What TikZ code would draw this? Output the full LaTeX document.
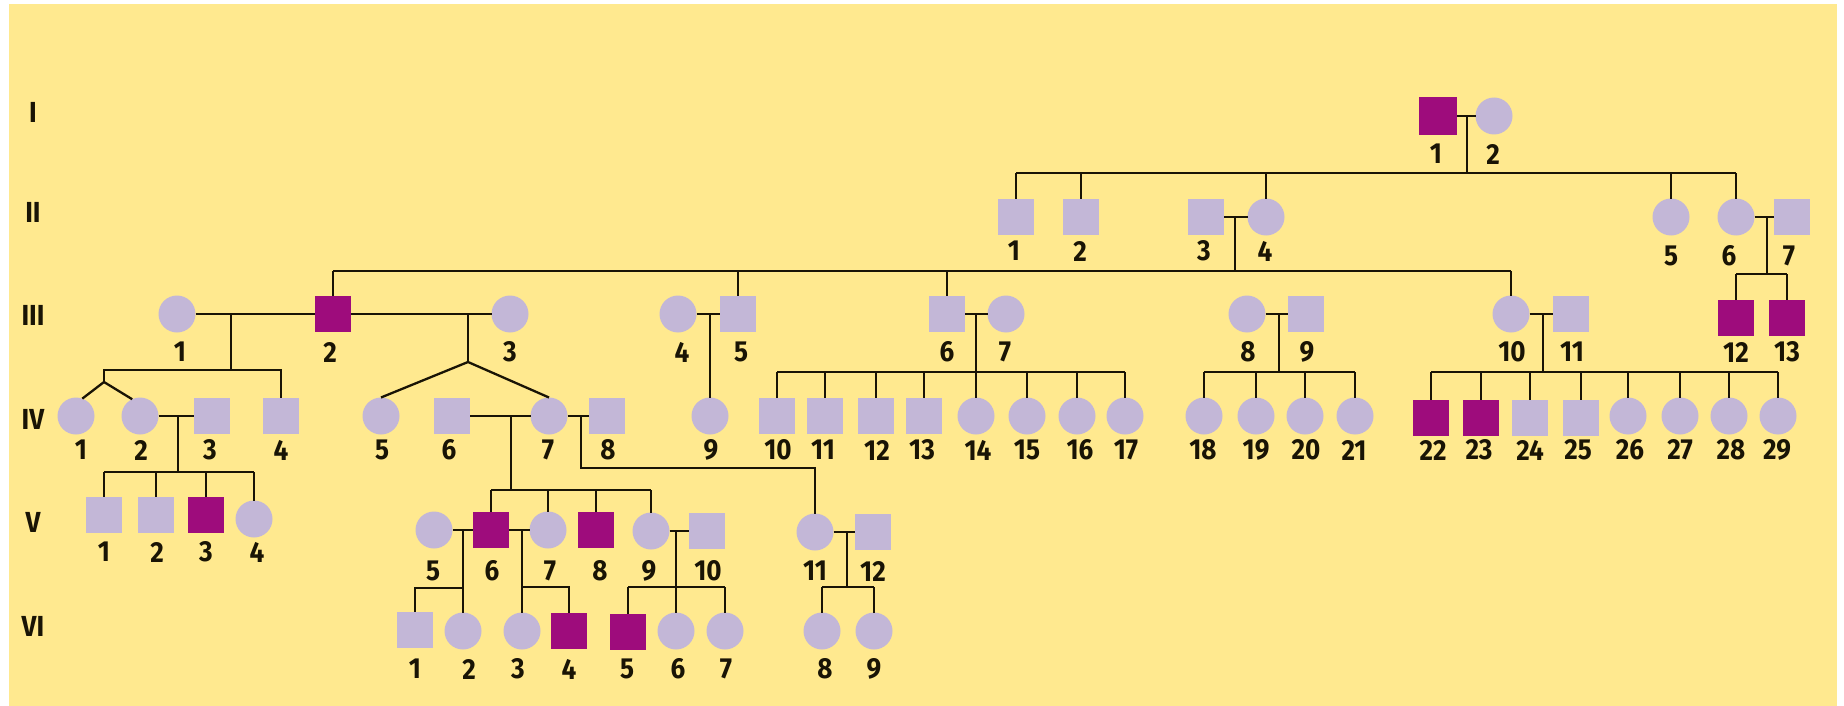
\documentclass[tikz,border=0pt]{standalone}
\usepackage{fontspec}
\setmainfont{Fira Sans}[FakeStretch=0.9]
\definecolor{bgy}{RGB}{255,233,143}
\definecolor{lav}{RGB}{195,183,215}
\definecolor{mag}{RGB}{158,12,124}
\definecolor{linec}{RGB}{25,20,5}
\newcommand{\labfont}{\fontsize{29}{29}\selectfont\bfseries}
\begin{document}
\begin{tikzpicture}[x=1pt,y=-1pt]
\tikzset{
 sym/.style={draw=none,inner sep=0pt,outer sep=0pt,fill=lav},
 male/.style={sym,rectangle,minimum width=36pt,minimum height=36pt},
 female/.style={sym,circle,minimum size=37pt},
 aff/.style={fill=mag},
 lab/.style={inner sep=0pt,font=\labfont,text=linec},
 gen/.style={inner sep=0pt,font=\labfont,text=linec},
 ln/.style={line width=2.3pt,draw=linec}
}
\useasboundingbox (0,0) rectangle (1844,706);
\fill[white] (0,0) rectangle (1844,706);
\fill[bgy] (9,4) rectangle (1837,706);

% generation labels
\node[gen] (gI) at (33,112) {I};
\node[gen] (gII) at (33,212) {II};
\node[gen] (gIII) at (33,315) {III};
\node[gen] (gIV) at (33,419) {IV};
\node[gen] (gV) at (33,522) {V};
\node[gen] (gVI) at (33,626) {VI};

% ---------- Row I
\node[male,aff,minimum width=38pt,minimum height=38pt] (I1) at (1438,116) {};
\node[female] (I2) at (1494,116) {};
\node[lab] (lI1) at (1436,154) {1};
\node[lab] (lI2) at (1493,154) {2};

% ---------- Row II
\node[male] (II1) at (1016,217) {};
\node[male] (II2) at (1081,217) {};
\node[male] (II3) at (1206,217) {};
\node[female] (II4) at (1266,217) {};
\node[female] (II5) at (1671,217) {};
\node[female] (II6) at (1736,217) {};
\node[male] (II7) at (1792,217) {};
\node[lab] (lII1) at (1014,251) {1};
\node[lab] (lII2) at (1080,251) {2};
\node[lab] (lII3) at (1204,251) {3};
\node[lab] (lII4) at (1265,251) {4};
\node[lab] (lII5) at (1671,256) {5};
\node[lab] (lII6) at (1729,256) {6};
\node[lab] (lII7) at (1789,256) {7};

% ---------- Row III
\node[female] (III1) at (177,314) {};
\node[male,aff] (III2) at (333,314) {};
\node[female] (III3) at (510,314) {};
\node[female] (III4) at (678,314) {};
\node[male] (III5) at (738,314) {};
\node[male] (III6) at (947,314) {};
\node[female] (III7) at (1006,314) {};
\node[female] (III8) at (1247,314) {};
\node[male] (III9) at (1306,314) {};
\node[female] (III10) at (1511,314) {};
\node[male] (III11) at (1571,314) {};
\node[male,aff] (III12) at (1736,318) {};
\node[male,aff] (III13) at (1787,318) {};
\node[lab] (lIII1) at (180,352) {1};
\node[lab] (lIII2) at (330,352) {2};
\node[lab] (lIII3) at (510,352) {3};
\node[lab] (lIII4) at (682,352) {4};
\node[lab] (lIII5) at (741,352) {5};
\node[lab] (lIII6) at (947,352) {6};
\node[lab] (lIII7) at (1005,352) {7};
\node[lab] (lIII8) at (1248,352) {8};
\node[lab] (lIII9) at (1307,352) {9};
\node[lab] (lIII10) at (1512,352) {10};
\node[lab] (lIII11) at (1572,352) {11};
\node[lab] (lIII12) at (1736,352) {12};
\node[lab] (lIII13) at (1787,352) {13};

% ---------- Row IV
\node[female] (IV1) at (76,416) {};
\node[female] (IV2) at (140,416) {};
\node[male] (IV3) at (212,416) {};
\node[male] (IV4) at (281,416) {};
\node[female] (IV5) at (381,416) {};
\node[male] (IV6) at (452,416) {};
\node[female] (IV7) at (549,416) {};
\node[male] (IV8) at (607,416) {};
\node[female] (IV9) at (710,416) {};
\node[male] (IV10) at (777,416) {};
\node[male] (IV11) at (825,416) {};
\node[male] (IV12) at (876,416) {};
\node[male] (IV13) at (924,416) {};
\node[female] (IV14) at (976,416) {};
\node[female] (IV15) at (1027,416) {};
\node[female] (IV16) at (1077,416) {};
\node[female] (IV17) at (1125,416) {};
\node[female] (IV18) at (1204,416) {};
\node[female] (IV19) at (1256,416) {};
\node[female] (IV20) at (1305,416) {};
\node[female] (IV21) at (1355,416) {};
\node[male,aff] (IV22) at (1431,418) {};
\node[male,aff] (IV23) at (1481,418) {};
\node[male] (IV24) at (1530,418) {};
\node[male] (IV25) at (1581,418) {};
\node[female] (IV26) at (1628,416) {};
\node[female] (IV27) at (1680,416) {};
\node[female] (IV28) at (1729,416) {};
\node[female] (IV29) at (1778,416) {};
\node[lab] (lIV1) at (81,450) {1};
\node[lab] (lIV2) at (141,450) {2};
\node[lab] (lIV3) at (210,450) {3};
\node[lab] (lIV4) at (281,450) {4};
\node[lab] (lIV5) at (382,450) {5};
\node[lab] (lIV6) at (449,450) {6};
\node[lab] (lIV7) at (548,450) {7};
\node[lab] (lIV8) at (608,450) {8};
\node[lab] (lIV9) at (711,450) {9};
\node[lab] (lIV10) at (778,450) {10};
\node[lab] (lIV11) at (823,450) {11};
\node[lab] (lIV12) at (877,450) {12};
\node[lab] (lIV13) at (922,450) {13};
\node[lab] (lIV14) at (978,450) {14};
\node[lab] (lIV15) at (1027,450) {15};
\node[lab] (lIV16) at (1080,450) {16};
\node[lab] (lIV17) at (1126,450) {17};
\node[lab] (lIV18) at (1203,450) {18};
\node[lab] (lIV19) at (1256,450) {19};
\node[lab] (lIV20) at (1306,450) {20};
\node[lab] (lIV21) at (1354,450) {21};
\node[lab] (lIV22) at (1433,450) {22};
\node[lab] (lIV23) at (1479,450) {23};
\node[lab] (lIV24) at (1530,450) {24};
\node[lab] (lIV25) at (1578,450) {25};
\node[lab] (lIV26) at (1630,450) {26};
\node[lab] (lIV27) at (1680,450) {27};
\node[lab] (lIV28) at (1731,450) {28};
\node[lab] (lIV29) at (1777,450) {29};

% ---------- Row V
\node[male] (V1) at (104,515) {};
\node[male] (V2) at (156,515) {};
\node[male,aff] (V3) at (206,515) {};
\node[female] (V4) at (254,519) {};
\node[female] (V5) at (434,530) {};
\node[male,aff] (V6) at (491,530) {};
\node[female] (V7) at (548,530) {};
\node[male,aff] (V8) at (596,530) {};
\node[female] (V9) at (651,531) {};
\node[male] (V10) at (707,531) {};
\node[female] (V11) at (815,532) {};
\node[male] (V12) at (873,532) {};
\node[lab] (lV1) at (104,552) {1};
\node[lab] (lV2) at (157,552) {2};
\node[lab] (lV3) at (206,552) {3};
\node[lab] (lV4) at (257,552) {4};
\node[lab] (lV5) at (433,571) {5};
\node[lab] (lV6) at (492,571) {6};
\node[lab] (lV7) at (550,571) {7};
\node[lab] (lV8) at (600,571) {8};
\node[lab] (lV9) at (649,571) {9};
\node[lab] (lV10) at (708,571) {10};
\node[lab] (lV11) at (815,571) {11};
\node[lab] (lV12) at (873,571) {12};

% ---------- Row VI
\node[male] (VI1) at (415,630) {};
\node[female] (VI2) at (463,631) {};
\node[female] (VI3) at (522,631) {};
\node[male,aff] (VI4) at (569,631) {};
\node[male,aff] (VI5) at (628,632) {};
\node[female] (VI6) at (676,631) {};
\node[female] (VI7) at (725,631) {};
\node[female] (VI8) at (822,631) {};
\node[female] (VI9) at (874,631) {};
\node[lab] (lVI1) at (415,669) {1};
\node[lab] (lVI2) at (469,669) {2};
\node[lab] (lVI3) at (518,669) {3};
\node[lab] (lVI4) at (569,669) {4};
\node[lab] (lVI5) at (627,669) {5};
\node[lab] (lVI6) at (678,669) {6};
\node[lab] (lVI7) at (726,669) {7};
\node[lab] (lVI8) at (825,669) {8};
\node[lab] (lVI9) at (874,669) {9};

% ---------- junction coordinates
\coordinate (mI) at (1467,116);
\coordinate (bII) at (1467,173);
\coordinate (mII34) at (1235,217);
\coordinate (bIII) at (1235,271);
\coordinate (mII67) at (1767,217);
\coordinate (bIIIb) at (1767,274);
\coordinate (mIII12) at (231,314);
\coordinate (bIVa) at (231,370);
\coordinate (tw1) at (104,382);
\coordinate (mIII23) at (468,314);
\coordinate (tw2) at (468,362);
\coordinate (mIII45) at (710,314);
\coordinate (mIII67) at (976,314);
\coordinate (bIVc) at (976,372);
\coordinate (mIII89) at (1279,314);
\coordinate (bIVd) at (1279,372);
\coordinate (mIII1011) at (1543,314);
\coordinate (bIVe) at (1543,372);
\coordinate (mIV23) at (178,416);
\coordinate (bV1) at (178,472);
\coordinate (mIV67) at (511,416);
\coordinate (bV2) at (511,490);
\coordinate (mIV78) at (581,416);
\coordinate (kV11) at (581,468);
\coordinate (mV56) at (463,530);
\coordinate (bVI1) at (463,588);
\coordinate (mV67) at (522,530);
\coordinate (bVI2) at (522,587);
\coordinate (mV910) at (676,531);
\coordinate (bVI3) at (676,587);
\coordinate (mV1112) at (847,532);
\coordinate (bVI4) at (847,587);

% ---------- connectors
% generation I
\draw[ln] (I1) -- (I2);
\draw[ln] (mI) -- (bII);
\draw[ln] (II1 |- bII) -- (II6 |- bII);
\foreach \c in {II1,II2,II4,II5,II6} \draw[ln] (\c |- bII) -- (\c);
% generation II
\draw[ln] (II3) -- (II4);
\draw[ln] (mII34) -- (bIII);
\draw[ln] (III2 |- bIII) -- (III10 |- bIII);
\foreach \c in {III2,III5,III6,III10} \draw[ln] (\c |- bIII) -- (\c);
\draw[ln] (II6) -- (II7);
\draw[ln] (mII67) -- (bIIIb);
\draw[ln] (III12 |- bIIIb) -- (III13 |- bIIIb);
\foreach \c in {III12,III13} \draw[ln] (\c |- bIIIb) -- (\c);
% generation III
\draw[ln] (III1) -- (III2);
\draw[ln] (III2) -- (III3);
\draw[ln] (mIII12) -- (bIVa);
\draw[ln] (tw1) -- (tw1 |- bIVa) -| (IV4);
\draw[ln] (tw1) -- (IV1.70);
\draw[ln] (tw1) -- (IV2.115);
\draw[ln] (mIII23) -- (tw2);
\draw[ln] (tw2) -- (IV5.north);
\draw[ln] (tw2) -- (IV7.north);
\draw[ln] (III4) -- (III5);
\draw[ln] (mIII45) -- (IV9);
\draw[ln] (III6) -- (III7);
\draw[ln] (mIII67) -- (bIVc);
\draw[ln] (IV10 |- bIVc) -- (IV17 |- bIVc);
\foreach \c in {IV10,IV11,IV12,IV13,IV14,IV15,IV16,IV17} \draw[ln] (\c |- bIVc) -- (\c);
\draw[ln] (III8) -- (III9);
\draw[ln] (mIII89) -- (bIVd);
\draw[ln] (IV18 |- bIVd) -- (IV21 |- bIVd);
\foreach \c in {IV18,IV19,IV20,IV21} \draw[ln] (\c |- bIVd) -- (\c);
\draw[ln] (III10) -- (III11);
\draw[ln] (mIII1011) -- (bIVe);
\draw[ln] (IV22 |- bIVe) -- (IV29 |- bIVe);
\foreach \c in {IV22,IV23,IV24,IV25,IV26,IV27,IV28,IV29} \draw[ln] (\c |- bIVe) -- (\c);
% generation IV
\draw[ln] (IV2) -- (IV3);
\draw[ln] (mIV23) -- (bV1);
\draw[ln] (V1 |- bV1) -- (V4 |- bV1);
\foreach \c in {V1,V2,V3,V4} \draw[ln] (\c |- bV1) -- (\c);
\draw[ln] (IV6) -- (IV7);
\draw[ln] (IV7) -- (IV8);
\draw[ln] (mIV67) -- (bV2);
\draw[ln] (V6 |- bV2) -- (V9 |- bV2);
\foreach \c in {V6,V7,V8,V9} \draw[ln] (\c |- bV2) -- (\c);
\draw[ln] (mIV78) -- (kV11) -| (V11);
% generation V
\draw[ln] (V5) -- (V6);
\draw[ln] (V6) -- (V7);
\draw[ln] (mV56) -- (VI2);
\draw[ln] (bVI1) -| (VI1);
\draw[ln] (mV67) -- (VI3);
\draw[ln] (bVI2) -| (VI4);
\draw[ln] (V9) -- (V10);
\draw[ln] (mV910) -- (VI6);
\draw[ln] (VI5 |- bVI3) -- (VI7 |- bVI3);
\foreach \c in {VI5,VI7} \draw[ln] (\c |- bVI3) -- (\c);
\draw[ln] (V11) -- (V12);
\draw[ln] (mV1112) -- (bVI4);
\draw[ln] (VI8 |- bVI4) -- (VI9 |- bVI4);
\foreach \c in {VI8,VI9} \draw[ln] (\c |- bVI4) -- (\c);
\end{tikzpicture}
\end{document}
